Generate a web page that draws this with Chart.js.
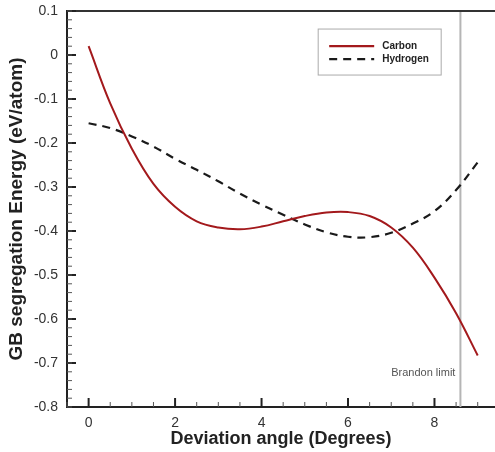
<!DOCTYPE html>
<html>
<head>
<meta charset="utf-8">
<script src="https://cdn.jsdelivr.net/npm/chart.js@4.4.0/dist/chart.umd.min.js"></script>
<style>
  html, body { margin: 0; padding: 0; background: #fff; }
  #wrap { width: 495px; height: 452px; }
</style>
</head>
<body>
<div id="wrap"><canvas id="myChart"></canvas></div>
<script>
// deviation angle (degrees)
const angles = [0, 0.5, 1, 1.5, 2, 2.5, 3, 3.5, 4, 4.5, 5, 5.5, 6, 6.5, 7, 7.5, 8, 8.5, 9];
// segregation energies (eV/atom)
const carbon = [0.02, -0.11, -0.213, -0.293, -0.345, -0.378, -0.392, -0.396, -0.39, -0.378, -0.366, -0.358, -0.357, -0.366, -0.392, -0.438, -0.506, -0.587, -0.683];
const hydrogen = [-0.155, -0.166, -0.185, -0.208, -0.236, -0.261, -0.287, -0.315, -0.34, -0.363, -0.385, -0.403, -0.413, -0.414, -0.404, -0.383, -0.355, -0.307, -0.244];
const brandonLimit = 8.6;

const xTicks = [0, 2, 4, 6, 8];
const xMinor = [-0.5, 0.5, 1, 1.5, 2.5, 3, 3.5, 4.5, 5, 5.5, 6.5, 7, 7.5, 8.5, 9];
const yTicks = [0.1, 0, -0.1, -0.2, -0.3, -0.4, -0.5, -0.6, -0.7, -0.8];
const yMinorStep = 0.02;

const toXY = (ys) => ys.map((y, i) => ({ x: angles[i], y: y }));

const decor = {
  id: "decor",
  afterDraw(chart) {
    const ctx = chart.ctx;
    const a = chart.chartArea;
    const xs = chart.scales.x, ys = chart.scales.y;
    ctx.save();
    // top frame line
    ctx.strokeStyle = "#333";
    ctx.lineWidth = 2;
    ctx.beginPath();
    ctx.moveTo(a.left, a.top);
    ctx.lineTo(a.right, a.top);
    ctx.stroke();
    // inward ticks
    ctx.strokeStyle = "#222";
    ctx.lineWidth = 2;
    xTicks.forEach(v => {
      const px = xs.getPixelForValue(v);
      ctx.beginPath(); ctx.moveTo(px, a.bottom); ctx.lineTo(px, a.bottom - 9); ctx.stroke();
    });
    yTicks.forEach(v => {
      const py = ys.getPixelForValue(v);
      ctx.beginPath(); ctx.moveTo(a.left, py); ctx.lineTo(a.left + 9, py); ctx.stroke();
    });
    ctx.lineWidth = 1;
    ctx.strokeStyle = "#555";
    xMinor.forEach(v => {
      const px = xs.getPixelForValue(v);
      ctx.beginPath(); ctx.moveTo(px, a.bottom); ctx.lineTo(px, a.bottom - 5); ctx.stroke();
    });
    for (let v = ys.min; v <= ys.max + 1e-9; v += yMinorStep) {
      const py = ys.getPixelForValue(v);
      ctx.beginPath(); ctx.moveTo(a.left, py); ctx.lineTo(a.left + 5, py); ctx.stroke();
    }
    // Brandon limit label
    ctx.fillStyle = "#555";
    ctx.font = "11px 'Liberation Sans', Arial, sans-serif";
    ctx.textAlign = "right";
    ctx.textBaseline = "middle";
    ctx.fillText("Brandon limit", xs.getPixelForValue(brandonLimit) - 5, ys.getPixelForValue(-0.722));
    // legend box
    const lx = xs.getPixelForValue(5.31), ly = ys.getPixelForValue(0.059);
    const lw = 123, lh = 46;
    ctx.strokeStyle = "#aaa";
    ctx.lineWidth = 1;
    ctx.strokeRect(lx, ly, lw, lh);
    chart.data.datasets.slice(0, 2).forEach((ds, i) => {
      const yy = ly + 17 + i * 13;
      ctx.strokeStyle = ds.borderColor;
      ctx.lineWidth = 2.2;
      ctx.setLineDash(ds.borderDash || []);
      ctx.beginPath(); ctx.moveTo(lx + 11, yy); ctx.lineTo(lx + 56, yy); ctx.stroke();
      ctx.setLineDash([]);
      ctx.fillStyle = "#222";
      ctx.font = "bold 10px 'Liberation Sans', Arial, sans-serif";
      ctx.textAlign = "left";
      ctx.fillText(ds.label, lx + 64, yy);
    });
    ctx.restore();
  }
};

const ctx = document.getElementById("myChart").getContext("2d");
const chart = new Chart(ctx, {
  type: "line",
  data: {
    datasets: [
      {
        label: "Carbon",
        data: toXY(carbon),
        borderColor: "#a3191c",
        borderWidth: 2,
        pointRadius: 0,
        tension: 0.4
      },
      {
        label: "Hydrogen",
        data: toXY(hydrogen),
        borderColor: "#1a1a1a",
        borderWidth: 2.2,
        borderDash: [8, 6],
        pointRadius: 0,
        tension: 0.4
      },
      {
        label: "Brandon limit",
        data: [{ x: brandonLimit, y: 0.1 }, { x: brandonLimit, y: -0.8 }],
        borderColor: "#b5b5b5",
        borderWidth: 2,
        pointRadius: 0,
        tension: 0
      }
    ]
  },
  options: {
    responsive: true,
    maintainAspectRatio: false,
    animation: false,
    layout: { padding: { top: 11, right: 0, left: 0, bottom: 0 } },
    plugins: { legend: { display: false }, tooltip: { enabled: false } },
    scales: {
      x: {
        type: "linear",
        min: -0.5,
        max: 9.4,
        afterBuildTicks: s => { s.ticks = xTicks.map(v => ({ value: v })); },
        afterFit: s => { s.height = 45; s.paddingLeft = 0; s.paddingRight = 0; },
        grid: { display: false, drawTicks: false },
        border: { display: true, color: "#222", width: 2 },
        ticks: { padding: 8, color: "#333", font: { size: 14, family: "'Liberation Sans', Arial, sans-serif" } },
        title: {
          display: true,
          text: "Deviation angle (Degrees)",
          color: "#222",
          padding: { top: 2, bottom: 2 },
          font: { size: 18, weight: "bold", family: "'Liberation Sans', Arial, sans-serif" }
        }
      },
      y: {
        type: "linear",
        min: -0.8,
        max: 0.1,
        afterBuildTicks: s => { s.ticks = yTicks.map(v => ({ value: v })); },
        afterFit: s => { s.width = 67; s.paddingTop = 0; s.paddingBottom = 0; },
        grid: { display: false, drawTicks: false },
        border: { display: true, color: "#222", width: 2 },
        ticks: { padding: 9, color: "#333", font: { size: 14, family: "'Liberation Sans', Arial, sans-serif" } },
        title: {
          display: true,
          text: "GB segregation Energy (eV/atom)",
          color: "#222",
          padding: { top: 5, bottom: 0 },
          font: { size: 19, weight: "bold", family: "'Liberation Sans', Arial, sans-serif" }
        }
      }
    }
  },
  plugins: [decor]
});
</script>
</body>
</html>
